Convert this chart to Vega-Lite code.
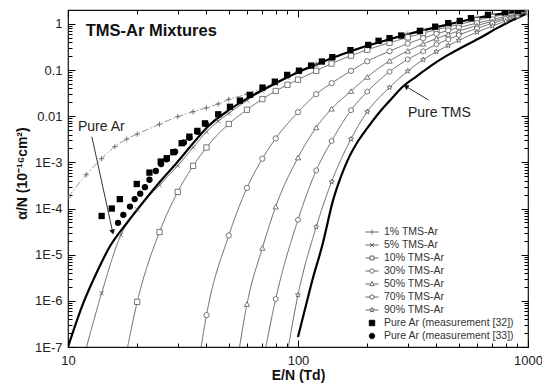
{
  "$schema": "https://vega.github.io/schema/vega-lite/v6.json",
  "width": 460,
  "height": 337,
  "autosize": {"type": "none"},
  "padding": {"left": 68, "top": 10, "right": 14, "bottom": 40},
  "background": "white",
  "datasets": {
    "mix": [
      {"s": "1% TMS-Ar", "x": 10, "y": 0.000175}, {"s": "1% TMS-Ar", "x": 12, "y": 0.00054}, {"s": "1% TMS-Ar", "x": 14, "y": 0.0012}, {"s": "1% TMS-Ar", "x": 16, "y": 0.0022}, {"s": "1% TMS-Ar", "x": 18, "y": 0.0032}, {"s": "1% TMS-Ar", "x": 20, "y": 0.0041}, {"s": "1% TMS-Ar", "x": 25, "y": 0.0067}, {"s": "1% TMS-Ar", "x": 30, "y": 0.0098}, {"s": "1% TMS-Ar", "x": 35, "y": 0.0125}, {"s": "1% TMS-Ar", "x": 40, "y": 0.0152}, {"s": "1% TMS-Ar", "x": 45, "y": 0.0185}, {"s": "1% TMS-Ar", "x": 50, "y": 0.0232}, {"s": "1% TMS-Ar", "x": 60, "y": 0.03}, {"s": "1% TMS-Ar", "x": 70, "y": 0.041}, {"s": "1% TMS-Ar", "x": 80, "y": 0.055}, {"s": "1% TMS-Ar", "x": 90, "y": 0.073}, {"s": "1% TMS-Ar", "x": 100, "y": 0.093}, {"s": "1% TMS-Ar", "x": 120, "y": 0.135}, {"s": "1% TMS-Ar", "x": 140, "y": 0.185}, {"s": "1% TMS-Ar", "x": 170, "y": 0.26}, {"s": "1% TMS-Ar", "x": 200, "y": 0.34}, {"s": "1% TMS-Ar", "x": 250, "y": 0.47}, {"s": "1% TMS-Ar", "x": 300, "y": 0.6}, {"s": "1% TMS-Ar", "x": 350, "y": 0.73}, {"s": "1% TMS-Ar", "x": 400, "y": 0.86}, {"s": "1% TMS-Ar", "x": 450, "y": 0.99}, {"s": "1% TMS-Ar", "x": 500, "y": 1.12}, {"s": "1% TMS-Ar", "x": 600, "y": 1.35}, {"s": "1% TMS-Ar", "x": 700, "y": 1.56}, {"s": "1% TMS-Ar", "x": 800, "y": 1.72}, {"s": "1% TMS-Ar", "x": 900, "y": 1.85}, {"s": "1% TMS-Ar", "x": 1000, "y": 1.95},
      {"s": "5% TMS-Ar", "x": 11.3, "y": 3e-8}, {"s": "5% TMS-Ar", "x": 14, "y": 1.46e-6}, {"s": "5% TMS-Ar", "x": 17, "y": 2.7e-5}, {"s": "5% TMS-Ar", "x": 20, "y": 9.5e-5}, {"s": "5% TMS-Ar", "x": 25, "y": 0.00032}, {"s": "5% TMS-Ar", "x": 30, "y": 0.00085}, {"s": "5% TMS-Ar", "x": 35, "y": 0.0021}, {"s": "5% TMS-Ar", "x": 40, "y": 0.0046}, {"s": "5% TMS-Ar", "x": 45, "y": 0.0078}, {"s": "5% TMS-Ar", "x": 50, "y": 0.0115}, {"s": "5% TMS-Ar", "x": 60, "y": 0.022}, {"s": "5% TMS-Ar", "x": 70, "y": 0.035}, {"s": "5% TMS-Ar", "x": 80, "y": 0.05}, {"s": "5% TMS-Ar", "x": 90, "y": 0.068}, {"s": "5% TMS-Ar", "x": 100, "y": 0.088}, {"s": "5% TMS-Ar", "x": 120, "y": 0.13}, {"s": "5% TMS-Ar", "x": 140, "y": 0.178}, {"s": "5% TMS-Ar", "x": 170, "y": 0.25}, {"s": "5% TMS-Ar", "x": 200, "y": 0.33}, {"s": "5% TMS-Ar", "x": 250, "y": 0.455}, {"s": "5% TMS-Ar", "x": 300, "y": 0.58}, {"s": "5% TMS-Ar", "x": 350, "y": 0.71}, {"s": "5% TMS-Ar", "x": 400, "y": 0.83}, {"s": "5% TMS-Ar", "x": 450, "y": 0.96}, {"s": "5% TMS-Ar", "x": 500, "y": 1.09}, {"s": "5% TMS-Ar", "x": 600, "y": 1.32}, {"s": "5% TMS-Ar", "x": 700, "y": 1.53}, {"s": "5% TMS-Ar", "x": 800, "y": 1.7}, {"s": "5% TMS-Ar", "x": 900, "y": 1.83}, {"s": "5% TMS-Ar", "x": 1000, "y": 1.94},
      {"s": "10% TMS-Ar", "x": 17.8, "y": 6e-8}, {"s": "10% TMS-Ar", "x": 20, "y": 9.5e-7}, {"s": "10% TMS-Ar", "x": 25, "y": 3.1e-5}, {"s": "10% TMS-Ar", "x": 30, "y": 0.00023}, {"s": "10% TMS-Ar", "x": 35, "y": 0.00084}, {"s": "10% TMS-Ar", "x": 40, "y": 0.0021}, {"s": "10% TMS-Ar", "x": 50, "y": 0.0068}, {"s": "10% TMS-Ar", "x": 60, "y": 0.0138}, {"s": "10% TMS-Ar", "x": 70, "y": 0.0235}, {"s": "10% TMS-Ar", "x": 80, "y": 0.0352}, {"s": "10% TMS-Ar", "x": 90, "y": 0.048}, {"s": "10% TMS-Ar", "x": 100, "y": 0.062}, {"s": "10% TMS-Ar", "x": 120, "y": 0.096}, {"s": "10% TMS-Ar", "x": 140, "y": 0.138}, {"s": "10% TMS-Ar", "x": 170, "y": 0.205}, {"s": "10% TMS-Ar", "x": 200, "y": 0.275}, {"s": "10% TMS-Ar", "x": 250, "y": 0.39}, {"s": "10% TMS-Ar", "x": 300, "y": 0.51}, {"s": "10% TMS-Ar", "x": 350, "y": 0.63}, {"s": "10% TMS-Ar", "x": 400, "y": 0.75}, {"s": "10% TMS-Ar", "x": 450, "y": 0.86}, {"s": "10% TMS-Ar", "x": 500, "y": 0.97}, {"s": "10% TMS-Ar", "x": 600, "y": 1.2}, {"s": "10% TMS-Ar", "x": 700, "y": 1.42}, {"s": "10% TMS-Ar", "x": 800, "y": 1.6}, {"s": "10% TMS-Ar", "x": 900, "y": 1.77}, {"s": "10% TMS-Ar", "x": 1000, "y": 1.92},
      {"s": "30% TMS-Ar", "x": 37.3, "y": 6e-8}, {"s": "30% TMS-Ar", "x": 40, "y": 4.9e-7}, {"s": "30% TMS-Ar", "x": 50, "y": 2.6e-5}, {"s": "30% TMS-Ar", "x": 60, "y": 0.00028}, {"s": "30% TMS-Ar", "x": 70, "y": 0.0012}, {"s": "30% TMS-Ar", "x": 80, "y": 0.0033}, {"s": "30% TMS-Ar", "x": 100, "y": 0.0122}, {"s": "30% TMS-Ar", "x": 120, "y": 0.03}, {"s": "30% TMS-Ar", "x": 140, "y": 0.052}, {"s": "30% TMS-Ar", "x": 170, "y": 0.096}, {"s": "30% TMS-Ar", "x": 200, "y": 0.155}, {"s": "30% TMS-Ar", "x": 250, "y": 0.255}, {"s": "30% TMS-Ar", "x": 300, "y": 0.375}, {"s": "30% TMS-Ar", "x": 350, "y": 0.49}, {"s": "30% TMS-Ar", "x": 400, "y": 0.61}, {"s": "30% TMS-Ar", "x": 450, "y": 0.72}, {"s": "30% TMS-Ar", "x": 500, "y": 0.83}, {"s": "30% TMS-Ar", "x": 600, "y": 1.04}, {"s": "30% TMS-Ar", "x": 700, "y": 1.25}, {"s": "30% TMS-Ar", "x": 800, "y": 1.45}, {"s": "30% TMS-Ar", "x": 900, "y": 1.65}, {"s": "30% TMS-Ar", "x": 1000, "y": 1.85},
      {"s": "50% TMS-Ar", "x": 54.5, "y": 5e-8}, {"s": "50% TMS-Ar", "x": 60, "y": 8.5e-7}, {"s": "50% TMS-Ar", "x": 70, "y": 1.4e-5}, {"s": "50% TMS-Ar", "x": 80, "y": 0.00011}, {"s": "50% TMS-Ar", "x": 100, "y": 0.00127}, {"s": "50% TMS-Ar", "x": 120, "y": 0.0057}, {"s": "50% TMS-Ar", "x": 140, "y": 0.0145}, {"s": "50% TMS-Ar", "x": 170, "y": 0.035}, {"s": "50% TMS-Ar", "x": 200, "y": 0.071}, {"s": "50% TMS-Ar", "x": 250, "y": 0.158}, {"s": "50% TMS-Ar", "x": 300, "y": 0.26}, {"s": "50% TMS-Ar", "x": 350, "y": 0.37}, {"s": "50% TMS-Ar", "x": 400, "y": 0.48}, {"s": "50% TMS-Ar", "x": 450, "y": 0.59}, {"s": "50% TMS-Ar", "x": 500, "y": 0.7}, {"s": "50% TMS-Ar", "x": 600, "y": 0.92}, {"s": "50% TMS-Ar", "x": 700, "y": 1.14}, {"s": "50% TMS-Ar", "x": 800, "y": 1.36}, {"s": "50% TMS-Ar", "x": 900, "y": 1.58}, {"s": "50% TMS-Ar", "x": 1000, "y": 1.8},
      {"s": "70% TMS-Ar", "x": 70, "y": 4e-8}, {"s": "70% TMS-Ar", "x": 80, "y": 1.1e-6}, {"s": "70% TMS-Ar", "x": 100, "y": 5.7e-5}, {"s": "70% TMS-Ar", "x": 120, "y": 0.00067}, {"s": "70% TMS-Ar", "x": 140, "y": 0.0029}, {"s": "70% TMS-Ar", "x": 170, "y": 0.0135}, {"s": "70% TMS-Ar", "x": 200, "y": 0.034}, {"s": "70% TMS-Ar", "x": 250, "y": 0.092}, {"s": "70% TMS-Ar", "x": 300, "y": 0.17}, {"s": "70% TMS-Ar", "x": 350, "y": 0.255}, {"s": "70% TMS-Ar", "x": 400, "y": 0.36}, {"s": "70% TMS-Ar", "x": 450, "y": 0.46}, {"s": "70% TMS-Ar", "x": 500, "y": 0.57}, {"s": "70% TMS-Ar", "x": 600, "y": 0.8}, {"s": "70% TMS-Ar", "x": 700, "y": 1.03}, {"s": "70% TMS-Ar", "x": 800, "y": 1.27}, {"s": "70% TMS-Ar", "x": 900, "y": 1.5}, {"s": "70% TMS-Ar", "x": 1000, "y": 1.75},
      {"s": "90% TMS-Ar", "x": 88, "y": 4e-8}, {"s": "90% TMS-Ar", "x": 100, "y": 1.34e-6}, {"s": "90% TMS-Ar", "x": 120, "y": 4e-5}, {"s": "90% TMS-Ar", "x": 140, "y": 0.00038}, {"s": "90% TMS-Ar", "x": 170, "y": 0.0032}, {"s": "90% TMS-Ar", "x": 200, "y": 0.0125}, {"s": "90% TMS-Ar", "x": 250, "y": 0.042}, {"s": "90% TMS-Ar", "x": 300, "y": 0.095}, {"s": "90% TMS-Ar", "x": 350, "y": 0.168}, {"s": "90% TMS-Ar", "x": 400, "y": 0.25}, {"s": "90% TMS-Ar", "x": 450, "y": 0.34}, {"s": "90% TMS-Ar", "x": 500, "y": 0.44}, {"s": "90% TMS-Ar", "x": 600, "y": 0.66}, {"s": "90% TMS-Ar", "x": 700, "y": 0.9}, {"s": "90% TMS-Ar", "x": 800, "y": 1.15}, {"s": "90% TMS-Ar", "x": 900, "y": 1.45}, {"s": "90% TMS-Ar", "x": 1000, "y": 1.78}
    ],
    "pure": [
      {"s": "Pure Ar", "x": 10, "y": 1e-7}, {"s": "Pure Ar", "x": 11.65, "y": 8.9e-7}, {"s": "Pure Ar", "x": 13.3, "y": 4e-6}, {"s": "Pure Ar", "x": 15.2, "y": 1.5e-5}, {"s": "Pure Ar", "x": 18, "y": 4.8e-5}, {"s": "Pure Ar", "x": 21.3, "y": 0.00014}, {"s": "Pure Ar", "x": 25.1, "y": 0.00038}, {"s": "Pure Ar", "x": 29.6, "y": 0.00096}, {"s": "Pure Ar", "x": 35, "y": 0.0026}, {"s": "Pure Ar", "x": 40.6, "y": 0.006}, {"s": "Pure Ar", "x": 50, "y": 0.0135}, {"s": "Pure Ar", "x": 60, "y": 0.024}, {"s": "Pure Ar", "x": 70, "y": 0.037}, {"s": "Pure Ar", "x": 80, "y": 0.052}, {"s": "Pure Ar", "x": 90, "y": 0.07}, {"s": "Pure Ar", "x": 100, "y": 0.09}, {"s": "Pure Ar", "x": 120, "y": 0.13}, {"s": "Pure Ar", "x": 140, "y": 0.18}, {"s": "Pure Ar", "x": 170, "y": 0.255}, {"s": "Pure Ar", "x": 200, "y": 0.335}, {"s": "Pure Ar", "x": 250, "y": 0.465}, {"s": "Pure Ar", "x": 300, "y": 0.595}, {"s": "Pure Ar", "x": 400, "y": 0.85}, {"s": "Pure Ar", "x": 500, "y": 1.1}, {"s": "Pure Ar", "x": 600, "y": 1.34}, {"s": "Pure Ar", "x": 700, "y": 1.55}, {"s": "Pure Ar", "x": 800, "y": 1.72}, {"s": "Pure Ar", "x": 900, "y": 1.85}, {"s": "Pure Ar", "x": 1000, "y": 1.95},
      {"s": "Pure TMS", "x": 100, "y": 1.65e-7}, {"s": "Pure TMS", "x": 107, "y": 6.3e-7}, {"s": "Pure TMS", "x": 115, "y": 2.6e-6}, {"s": "Pure TMS", "x": 128, "y": 1.7e-5}, {"s": "Pure TMS", "x": 142, "y": 0.00015}, {"s": "Pure TMS", "x": 155, "y": 0.00055}, {"s": "Pure TMS", "x": 168, "y": 0.0014}, {"s": "Pure TMS", "x": 180, "y": 0.0026}, {"s": "Pure TMS", "x": 200, "y": 0.0055}, {"s": "Pure TMS", "x": 227, "y": 0.0125}, {"s": "Pure TMS", "x": 255, "y": 0.024}, {"s": "Pure TMS", "x": 286, "y": 0.044}, {"s": "Pure TMS", "x": 330, "y": 0.075}, {"s": "Pure TMS", "x": 374, "y": 0.119}, {"s": "Pure TMS", "x": 440, "y": 0.2}, {"s": "Pure TMS", "x": 522, "y": 0.32}, {"s": "Pure TMS", "x": 620, "y": 0.5}, {"s": "Pure TMS", "x": 730, "y": 0.8}, {"s": "Pure TMS", "x": 850, "y": 1.18}, {"s": "Pure TMS", "x": 1000, "y": 1.72}
    ],
    "meas": [
      {"s": "Pure Ar (measurement [32])", "x": 14.0, "y": 6.9e-5}, {"s": "Pure Ar (measurement [32])", "x": 15.5, "y": 0.0001}, {"s": "Pure Ar (measurement [32])", "x": 16.8, "y": 0.00016}, {"s": "Pure Ar (measurement [32])", "x": 19.9, "y": 0.00034}, {"s": "Pure Ar (measurement [32])", "x": 22.6, "y": 0.0006}, {"s": "Pure Ar (measurement [32])", "x": 25.3, "y": 0.00104}, {"s": "Pure Ar (measurement [32])", "x": 26.9, "y": 0.00123}, {"s": "Pure Ar (measurement [32])", "x": 28.7, "y": 0.00166}, {"s": "Pure Ar (measurement [32])", "x": 31.2, "y": 0.0026}, {"s": "Pure Ar (measurement [32])", "x": 33.7, "y": 0.0036}, {"s": "Pure Ar (measurement [32])", "x": 36.5, "y": 0.0048}, {"s": "Pure Ar (measurement [32])", "x": 39.4, "y": 0.007}, {"s": "Pure Ar (measurement [32])", "x": 45, "y": 0.011}, {"s": "Pure Ar (measurement [32])", "x": 50.6, "y": 0.016}, {"s": "Pure Ar (measurement [32])", "x": 55.9, "y": 0.0218}, {"s": "Pure Ar (measurement [32])", "x": 61.8, "y": 0.029}, {"s": "Pure Ar (measurement [32])", "x": 70.1, "y": 0.0417}, {"s": "Pure Ar (measurement [32])", "x": 79.3, "y": 0.056}, {"s": "Pure Ar (measurement [32])", "x": 89.7, "y": 0.0785}, {"s": "Pure Ar (measurement [32])", "x": 101, "y": 0.097}, {"s": "Pure Ar (measurement [32])", "x": 114, "y": 0.125}, {"s": "Pure Ar (measurement [32])", "x": 127, "y": 0.153}, {"s": "Pure Ar (measurement [32])", "x": 141, "y": 0.19}, {"s": "Pure Ar (measurement [32])", "x": 169, "y": 0.27}, {"s": "Pure Ar (measurement [32])", "x": 202, "y": 0.35}, {"s": "Pure Ar (measurement [32])", "x": 224, "y": 0.43}, {"s": "Pure Ar (measurement [32])", "x": 250, "y": 0.49}, {"s": "Pure Ar (measurement [32])", "x": 281, "y": 0.56}, {"s": "Pure Ar (measurement [32])", "x": 339, "y": 0.707}, {"s": "Pure Ar (measurement [32])", "x": 395, "y": 0.87}, {"s": "Pure Ar (measurement [32])", "x": 450, "y": 1.04}, {"s": "Pure Ar (measurement [32])", "x": 505, "y": 1.16}, {"s": "Pure Ar (measurement [32])", "x": 565, "y": 1.33}, {"s": "Pure Ar (measurement [32])", "x": 670, "y": 1.57}, {"s": "Pure Ar (measurement [32])", "x": 793, "y": 1.79}, {"s": "Pure Ar (measurement [32])", "x": 906, "y": 1.91},
      {"s": "Pure Ar (measurement [33])", "x": 16.5, "y": 4.9e-5}, {"s": "Pure Ar (measurement [33])", "x": 17.4, "y": 7.3e-5}, {"s": "Pure Ar (measurement [33])", "x": 18.6, "y": 0.00011}, {"s": "Pure Ar (measurement [33])", "x": 19.5, "y": 0.00016}, {"s": "Pure Ar (measurement [33])", "x": 20.6, "y": 0.00021}, {"s": "Pure Ar (measurement [33])", "x": 21.6, "y": 0.00029}, {"s": "Pure Ar (measurement [33])", "x": 22.6, "y": 0.00042}, {"s": "Pure Ar (measurement [33])", "x": 24.1, "y": 0.00065}, {"s": "Pure Ar (measurement [33])", "x": 25.4, "y": 0.00092}, {"s": "Pure Ar (measurement [33])", "x": 26.8, "y": 0.00117}, {"s": "Pure Ar (measurement [33])", "x": 29.2, "y": 0.0017}, {"s": "Pure Ar (measurement [33])", "x": 31.9, "y": 0.0027}, {"s": "Pure Ar (measurement [33])", "x": 33.7, "y": 0.0034}, {"s": "Pure Ar (measurement [33])", "x": 36.5, "y": 0.0046}, {"s": "Pure Ar (measurement [33])", "x": 39.7, "y": 0.0068}
    ],
    "heading": [
      {"t": "TMS-Ar Mixtures", "x": 11.95, "y": 0.7}
    ],
    "notes": [
      {"t": "Pure Ar", "x": 11.05, "y": 0.0059},
      {"t": "Pure TMS", "x": 300.7, "y": 0.0115}
    ],
    "arrows": [
      {"t": "Pure Ar", "x": 12.7, "y": 0.0036, "x2": 15.64, "y2": 3.09e-5},
      {"t": "Pure TMS", "x": 369, "y": 0.0225, "x2": 294.4, "y2": 0.0443}
    ]
  },
  "layer": [
    {
      "data": {"name": "mix"},
      "mark": {"type": "line", "clip": true, "interpolate": "monotone", "strokeWidth": 0.9},
      "encoding": {
        "x": {"field": "x", "type": "quantitative", "scale": {"type": "log", "domain": [10, 1000], "nice": false},
          "axis": {"orient": "bottom", "values": [10, 100, 1000], "offset": -7, "ticks": true, "tickSize": 7, "tickColor": "#000", "tickOpacity": 1, "tickWidth": 1, "labelPadding": 7, "labelFlush": false, "labelExpr": "format(datum.value, 'd')", "title": "E/N (Td)", "titleY": 35, "titleBaseline": "middle"}},
        "y": {"field": "y", "type": "quantitative", "scale": {"type": "log", "domain": [1e-7, 2], "nice": false},
          "axis": {"orient": "left", "values": [1e-7, 1e-6, 1e-5, 1e-4, 1e-3, 0.01, 0.1, 1], "offset": -7, "ticks": true, "tickSize": 7, "tickColor": "#000", "tickOpacity": 1, "tickWidth": 1, "labelPadding": 6, "labelFlush": false, "labelOverlap": false, "labelExpr": "datum.value > 0.5 ? '1' : datum.value > 0.05 ? '0.1' : datum.value > 0.005 ? '0.01' : '1E' + round(log(datum.value) / LN10)", "title": "α/N (10⁻¹⁶cm²)", "titleX": -53, "titleY": 163, "titleBaseline": "middle"}},
        "detail": {"field": "s", "type": "nominal"},
        "stroke": {"field": "s", "type": "nominal", "legend": null, "scale": {"domain": ["1% TMS-Ar", "5% TMS-Ar", "10% TMS-Ar", "30% TMS-Ar", "50% TMS-Ar", "70% TMS-Ar", "90% TMS-Ar"], "range": ["#8a8a8a", "#555555", "#555555", "#555555", "#555555", "#555555", "#555555"]}},
        "strokeDash": {"field": "s", "type": "nominal", "legend": null, "scale": {"domain": ["1% TMS-Ar", "5% TMS-Ar", "10% TMS-Ar", "30% TMS-Ar", "50% TMS-Ar", "70% TMS-Ar", "90% TMS-Ar"], "range": [[7, 2, 1.5, 2], [1, 0], [1, 0], [1, 0], [1, 0], [1, 0], [1, 0]]}}
      }
    },
    {
      "data": {"name": "pure"},
      "mark": {"type": "line", "clip": true, "interpolate": "monotone", "strokeWidth": 2.2, "color": "#000"},
      "encoding": {
        "x": {"field": "x", "type": "quantitative", "scale": {"type": "log", "domain": [10, 1000], "nice": false},
          "axis": {"orient": "bottom", "values": [20, 30, 40, 50, 60, 70, 80, 90, 200, 300, 400, 500, 600, 700, 800, 900], "offset": -4, "ticks": true, "tickSize": 4, "tickColor": "#000", "tickOpacity": 1, "tickWidth": 1, "labels": false, "title": null}},
        "y": {"field": "y", "type": "quantitative", "scale": {"type": "log", "domain": [1e-7, 2], "nice": false},
          "axis": {"orient": "left", "values": [2e-7, 3e-7, 4e-7, 5e-7, 6e-7, 7e-7, 8e-7, 9e-7, 2e-6, 3e-6, 4e-6, 5e-6, 6e-6, 7e-6, 8e-6, 9e-6, 2e-5, 3e-5, 4e-5, 5e-5, 6e-5, 7e-5, 8e-5, 9e-5, 2e-4, 3e-4, 4e-4, 5e-4, 6e-4, 7e-4, 8e-4, 9e-4, 0.002, 0.003, 0.004, 0.005, 0.006, 0.007, 0.008, 0.009, 0.02, 0.03, 0.04, 0.05, 0.06, 0.07, 0.08, 0.09, 0.2, 0.3, 0.4, 0.5, 0.6, 0.7, 0.8, 0.9], "offset": -4, "ticks": true, "tickSize": 4, "tickColor": "#000", "tickOpacity": 1, "tickWidth": 1, "labels": false, "title": null}},
        "detail": {"field": "s", "type": "nominal"}
      }
    },
    {
      "data": {"name": "mix"},
      "mark": {"type": "point", "clip": true, "fill": "white", "stroke": "#555555", "strokeWidth": 0.8, "size": 28, "opacity": 1},
      "encoding": {
        "x": {"field": "x", "type": "quantitative", "scale": {"type": "log", "domain": [10, 1000], "nice": false},
          "axis": {"orient": "top", "values": [10, 100, 1000], "offset": -7, "ticks": true, "tickSize": 7, "tickColor": "#000", "tickOpacity": 1, "tickWidth": 1, "labels": false, "title": null}},
        "y": {"field": "y", "type": "quantitative", "scale": {"type": "log", "domain": [1e-7, 2], "nice": false},
          "axis": {"orient": "right", "values": [1e-7, 1e-6, 1e-5, 1e-4, 1e-3, 0.01, 0.1, 1], "offset": -7, "ticks": true, "tickSize": 7, "tickColor": "#000", "tickOpacity": 1, "tickWidth": 1, "labels": false, "title": null}},
        "shape": {"field": "s", "type": "nominal", "legend": null, "scale": {"domain": ["1% TMS-Ar", "5% TMS-Ar", "10% TMS-Ar", "30% TMS-Ar", "50% TMS-Ar", "70% TMS-Ar", "90% TMS-Ar"], "range": ["M-1,0H1M0,-1V1", "M-0.8,-0.8L0.8,0.8M-0.8,0.8L0.8,-0.8", "square", "circle", "triangle-up", "M0,-1L0.866,-0.5L0.866,0.5L0,1L-0.866,0.5L-0.866,-0.5Z", "M0,-1L0.235,-0.324L0.951,-0.309L0.38,0.124L0.588,0.809L0,0.4L-0.588,0.809L-0.38,0.124L-0.951,-0.309L-0.235,-0.324Z"]}}
      }
    },
    {
      "data": {"name": "meas"},
      "mark": {"type": "point", "clip": true, "filled": true, "color": "#000", "size": 40, "opacity": 1},
      "encoding": {
        "x": {"field": "x", "type": "quantitative", "scale": {"type": "log", "domain": [10, 1000], "nice": false},
          "axis": {"orient": "top", "values": [20, 30, 40, 50, 60, 70, 80, 90, 200, 300, 400, 500, 600, 700, 800, 900], "offset": -4, "ticks": true, "tickSize": 4, "tickColor": "#000", "tickOpacity": 1, "tickWidth": 1, "labels": false, "title": null}},
        "y": {"field": "y", "type": "quantitative", "scale": {"type": "log", "domain": [1e-7, 2], "nice": false},
          "axis": {"orient": "right", "values": [2e-7, 3e-7, 4e-7, 5e-7, 6e-7, 7e-7, 8e-7, 9e-7, 2e-6, 3e-6, 4e-6, 5e-6, 6e-6, 7e-6, 8e-6, 9e-6, 2e-5, 3e-5, 4e-5, 5e-5, 6e-5, 7e-5, 8e-5, 9e-5, 2e-4, 3e-4, 4e-4, 5e-4, 6e-4, 7e-4, 8e-4, 9e-4, 0.002, 0.003, 0.004, 0.005, 0.006, 0.007, 0.008, 0.009, 0.02, 0.03, 0.04, 0.05, 0.06, 0.07, 0.08, 0.09, 0.2, 0.3, 0.4, 0.5, 0.6, 0.7, 0.8, 0.9], "offset": -4, "ticks": true, "tickSize": 4, "tickColor": "#000", "tickOpacity": 1, "tickWidth": 1, "labels": false, "title": null}},
        "shape": {"field": "s", "type": "nominal", "legend": null, "scale": {"domain": ["Pure Ar (measurement [32])", "Pure Ar (measurement [33])"], "range": ["square", "circle"]}}
      }
    },
    {
      "data": {"name": "heading"},
      "mark": {"type": "text", "align": "left", "baseline": "middle", "font": "Liberation Sans", "fontSize": 16.5, "fontWeight": "bold", "color": "#111"},
      "encoding": {
        "x": {"field": "x", "type": "quantitative", "scale": {"type": "log", "domain": [10, 1000], "nice": false}, "axis": null},
        "y": {"field": "y", "type": "quantitative", "scale": {"type": "log", "domain": [1e-7, 2], "nice": false}, "axis": null},
        "text": {"field": "t"}
      }
    },
    {
      "data": {"name": "notes"},
      "mark": {"type": "text", "align": "left", "baseline": "middle", "font": "Liberation Sans", "fontSize": 14, "color": "#222"},
      "encoding": {
        "x": {"field": "x", "type": "quantitative", "scale": {"type": "log", "domain": [10, 1000], "nice": false}, "axis": null},
        "y": {"field": "y", "type": "quantitative", "scale": {"type": "log", "domain": [1e-7, 2], "nice": false}, "axis": null},
        "text": {"field": "t"}
      }
    },
    {
      "data": {"name": "arrows"},
      "mark": {"type": "rule", "color": "#333", "strokeWidth": 1},
      "encoding": {
        "x": {"field": "x", "type": "quantitative", "scale": {"type": "log", "domain": [10, 1000], "nice": false}, "axis": null},
        "y": {"field": "y", "type": "quantitative", "scale": {"type": "log", "domain": [1e-7, 2], "nice": false}, "axis": null},
        "x2": {"field": "x2"},
        "y2": {"field": "y2"}
      }
    },
    {
      "data": {"name": "arrows"},
      "transform": [{"filter": "datum.t === 'Pure Ar'"}],
      "mark": {"type": "point", "shape": "triangle-down", "filled": true, "color": "#111", "size": 34, "angle": 347.6, "opacity": 1},
      "encoding": {
        "x": {"field": "x2", "type": "quantitative", "scale": {"type": "log", "domain": [10, 1000], "nice": false}, "axis": null},
        "y": {"field": "y2", "type": "quantitative", "scale": {"type": "log", "domain": [1e-7, 2], "nice": false}, "axis": null}
      }
    },
    {
      "data": {"name": "arrows"},
      "transform": [{"filter": "datum.t === 'Pure TMS'"}],
      "mark": {"type": "point", "shape": "triangle-down", "filled": true, "color": "#111", "size": 34, "angle": 121, "opacity": 1},
      "encoding": {
        "x": {"field": "x2", "type": "quantitative", "scale": {"type": "log", "domain": [10, 1000], "nice": false}, "axis": null},
        "y": {"field": "y2", "type": "quantitative", "scale": {"type": "log", "domain": [1e-7, 2], "nice": false}, "axis": null}
      }
    },
    {
      "data": {"name": "meas"},
      "transform": [{"filter": "false"}],
      "mark": {"type": "point", "strokeWidth": 0.9, "opacity": 1},
      "encoding": {
        "x": {"field": "x", "type": "quantitative", "scale": {"type": "log", "domain": [10, 1000], "nice": false}, "axis": null},
        "y": {"field": "y", "type": "quantitative", "scale": {"type": "log", "domain": [1e-7, 2], "nice": false}, "axis": null},
        "shape": {"field": "s", "type": "nominal",
          "scale": {"domain": ["1% TMS-Ar", "5% TMS-Ar", "10% TMS-Ar", "30% TMS-Ar", "50% TMS-Ar", "70% TMS-Ar", "90% TMS-Ar", "Pure Ar (measurement [32])", "Pure Ar (measurement [33])"],
            "range": ["M-1,0H1M0,-0.36V0.36", "M-1,0H1M-0.3,-0.3L0.3,0.3M-0.3,0.3L0.3,-0.3", "M-1,0H-0.3M0.3,0H1M-0.3,-0.3H0.3V0.3H-0.3Z", "M-1,0H-0.32M0.32,0H1M-0.32,0A0.32,0.32,0,1,1,0.32,0A0.32,0.32,0,1,1,-0.32,0Z", "M-1,0H-0.34M0.34,0H1M0,-0.36L0.34,0.26L-0.34,0.26Z", "M-1,0H-0.3M0.3,0H1M0,-0.36L0.3,-0.18L0.3,0.18L0,0.36L-0.3,0.18L-0.3,-0.18Z", "M-1,0H-0.36M0.36,0H1M0,-0.38L0.09,-0.12L0.36,-0.12L0.14,0.05L0.22,0.31L0,0.15L-0.22,0.31L-0.14,0.05L-0.36,-0.12L-0.09,-0.12Z", "M-0.42,-0.42H0.42V0.42H-0.42Z", "M-0.42,0A0.42,0.42,0,1,1,0.42,0A0.42,0.42,0,1,1,-0.42,0Z"]},
          "legend": {"title": null, "orient": "none", "legendX": 297, "legendY": 215, "symbolSize": 169, "labelFont": "Liberation Sans", "labelFontSize": 10.5, "labelColor": "#333", "labelOffset": 5, "rowPadding": 0, "padding": 0, "symbolStrokeWidth": 0.9}},
        "fill": {"field": "s", "type": "nominal",
          "scale": {"domain": ["1% TMS-Ar", "5% TMS-Ar", "10% TMS-Ar", "30% TMS-Ar", "50% TMS-Ar", "70% TMS-Ar", "90% TMS-Ar", "Pure Ar (measurement [32])", "Pure Ar (measurement [33])"],
            "range": ["transparent", "transparent", "white", "white", "white", "white", "white", "#000", "#000"]},
          "legend": {"title": null, "orient": "none", "legendX": 297, "legendY": 215, "symbolSize": 169, "labelFont": "Liberation Sans", "labelFontSize": 10.5, "labelColor": "#333", "labelOffset": 5, "rowPadding": 0, "padding": 0, "symbolStrokeWidth": 0.9}},
        "stroke": {"field": "s", "type": "nominal",
          "scale": {"domain": ["1% TMS-Ar", "5% TMS-Ar", "10% TMS-Ar", "30% TMS-Ar", "50% TMS-Ar", "70% TMS-Ar", "90% TMS-Ar", "Pure Ar (measurement [32])", "Pure Ar (measurement [33])"],
            "range": ["#555", "#555", "#555", "#555", "#555", "#555", "#555", "#000", "#000"]},
          "legend": {"title": null, "orient": "none", "legendX": 297, "legendY": 215, "symbolSize": 169, "labelFont": "Liberation Sans", "labelFontSize": 10.5, "labelColor": "#333", "labelOffset": 5, "rowPadding": 0, "padding": 0, "symbolStrokeWidth": 0.9}}
      }
    }
  ],
  "resolve": {
    "scale": {"shape": "independent", "fill": "independent", "stroke": "independent", "strokeDash": "independent"},
    "axis": {"x": "independent", "y": "independent"}
  },
  "config": {
    "font": "Liberation Sans",
    "view": {"stroke": "#111", "strokeWidth": 1.2},
    "axis": {"labelFont": "Liberation Sans", "labelFontSize": 13, "labelColor": "#222", "titleFont": "Liberation Sans", "titleFontSize": 14, "titleFontWeight": "bold", "titleColor": "#111", "ticks": true, "tickColor": "#000", "tickWidth": 1, "domain": false, "grid": false},
    "legend": {"labelFont": "Liberation Sans"}
  }
}
